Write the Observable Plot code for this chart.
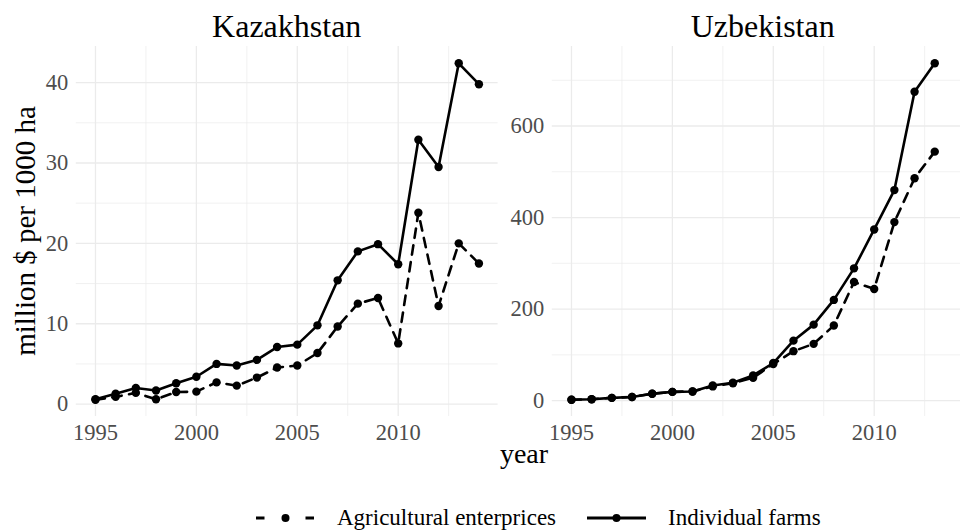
<!DOCTYPE html>
<html><head><meta charset="utf-8">
<script src="https://cdn.jsdelivr.net/npm/d3@7"></script>
<script src="https://cdn.jsdelivr.net/npm/@observablehq/plot@0.6"></script>
<style>
body{margin:0;background:#fff;}
#wrap{position:relative;width:960px;height:532px;overflow:hidden;background:#fff;}
#wrap svg{position:absolute;}
#wrap svg text{font-family:"Liberation Serif","Times New Roman",serif !important;}
</style></head><body><div id="wrap"></div>
<script>
// ---- data ----
const seriesNames = ["Agricultural enterprices", "Individual farms"];
const yearsKZ = [1995,1996,1997,1998,1999,2000,2001,2002,2003,2004,2005,2006,2007,2008,2009,2010,2011,2012,2013,2014];
const kzEnterprises = [0.55,0.9,1.4,0.6,1.5,1.55,2.7,2.3,3.3,4.55,4.8,6.35,9.65,12.5,13.2,7.55,23.8,12.2,20.0,17.5];
const kzFarms = [0.6,1.3,2.0,1.7,2.6,3.4,5.0,4.8,5.5,7.1,7.4,9.8,15.4,19.0,19.9,17.4,32.9,29.5,42.4,39.8];
const yearsUZ = [1995,1996,1997,1998,1999,2000,2001,2002,2003,2004,2005,2006,2007,2008,2009,2010,2011,2012,2013];
const uzEnterprises = [2,3,6,8,15,19,20,31,38,50,80,108,124,164,259,244,390,486,544];
const uzFarms = [2,3,6,8,15,19,20,33,39,55,82,131,166,220,289,374,460,675,737];
const countries = ["Kazakhstan", "Uzbekistan"];
const xTicks = [1995,2000,2005,2010];
const xMinor = [1997.5,2002.5,2007.5,2012.5];
const kzYTicks = [0,10,20,30,40];
const kzYMinor = [5,15,25,35];
const uzYTicks = [0,200,400,600];
const uzYMinor = [100,300,500,700];

function buildRows(country, years, ent, farms) {
  const out = [];
  years.forEach((yr, i) => {
    out.push({country, year: yr, series: seriesNames[0], value: ent[i]});
    out.push({country, year: yr, series: seriesNames[1], value: farms[i]});
  });
  return out;
}
const table = [
  ...buildRows(countries[0], yearsKZ, kzEnterprises, kzFarms),
  ...buildRows(countries[1], yearsUZ, uzEnterprises, uzFarms)
];

const FONT = '"Liberation Serif", "Times New Roman", serif';
const [xa, xb] = d3.extent(table, d => d.year);
const xe = (xb - xa) * 0.05;

function panel(country, yTicks, yMinor, marginLeft, marginRight) {
  const data = table.filter(d => d.country === country);
  const [ya, yb] = d3.extent(data, d => d.value);
  const ye = (yb - ya) * 0.05;
  const grid = {stroke: "#ebebeb", strokeOpacity: 1};
  const axisText = {fontFamily: FONT, fontSize: 22.5, fill: "#4d4d4d"};
  return Plot.plot({
    width: 500, height: 450,
    marginLeft, marginRight, marginTop: 46, marginBottom: 34,
    x: {domain: [xa - xe, xb + xe]},
    y: {domain: [ya - ye, yb + ye]},
    style: {fontFamily: FONT, fontSize: "22.5px", color: "#4d4d4d", background: "transparent", overflow: "visible"},
    marks: [
      Plot.gridX(xMinor, {...grid, strokeWidth: 0.7}),
      Plot.gridY(yMinor, {...grid, strokeWidth: 0.7}),
      Plot.gridX(xTicks, {...grid, strokeWidth: 1.3}),
      Plot.gridY(yTicks, {...grid, strokeWidth: 1.3}),
      Plot.axisX({ticks: xTicks, tickFormat: d => String(d), tickSize: 0, tickPadding: 8, label: null, ...axisText}),
      Plot.axisY({ticks: yTicks, tickFormat: d => String(d), tickSize: 0, tickPadding: 8, label: null, ...axisText}),
      Plot.line(data.filter(d => d.series === seriesNames[0]), {x: "year", y: "value", stroke: "black", strokeWidth: 2.6, strokeDasharray: "9.5,7.5"}),
      Plot.line(data.filter(d => d.series === seriesNames[1]), {x: "year", y: "value", stroke: "black", strokeWidth: 2.6}),
      Plot.dot(data, {x: "year", y: "value", r: 4.2, fill: "black"})
    ]
  });
}

const wrap = document.getElementById("wrap");
const p1 = panel(countries[0], kzYTicks, kzYMinor, 75.8, 2.4);
p1.style.left = "0px"; p1.style.top = "0px";
const p2 = panel(countries[1], uzYTicks, uzYMinor, 71.8, 6.4);
p2.style.left = "480px"; p2.style.top = "0px";
wrap.appendChild(p1);
wrap.appendChild(p2);

// ---- overlay text: strip titles, axis titles, legend ----
const ns = "http://www.w3.org/2000/svg";
const ov = document.createElementNS(ns, "svg");
ov.setAttribute("width", 960); ov.setAttribute("height", 532);
ov.style.left = "0px"; ov.style.top = "0px";
ov.style.fontFamily = FONT;
function txt(s, x, y, size, anchor, extra) {
  const t = document.createElementNS(ns, "text");
  t.textContent = s;
  t.setAttribute("x", x); t.setAttribute("y", y);
  t.setAttribute("font-size", size);
  t.setAttribute("text-anchor", anchor);
  t.setAttribute("fill", "#000");
  if (extra) for (const k in extra) t.setAttribute(k, extra[k]);
  ov.appendChild(t);
  return t;
}
function el(tag, attrs) {
  const e = document.createElementNS(ns, tag);
  for (const k in attrs) e.setAttribute(k, attrs[k]);
  ov.appendChild(e);
  return e;
}
txt(countries[0], 286.7, 37, 32, "middle");
txt(countries[1], 762.7, 37, 32, "middle");
txt("year", 524, 463, 28, "middle");
txt("million $ per 1000 ha", 0, 0, 29, "middle", {transform: "translate(35,231) rotate(-90)"});

// legend
const ly = 518;
el("path", {d: `M256,${ly}H315`, stroke: "#000", "stroke-width": 2.8, "stroke-dasharray": "8.5 20.5 0 20.5 8.5", fill: "none"});
el("circle", {cx: 285.5, cy: ly, r: 4, fill: "#000"});
txt(seriesNames[0], 337, 525, 23, "start");
el("path", {d: `M587,${ly}H646`, stroke: "#000", "stroke-width": 2.8, fill: "none"});
el("circle", {cx: 616.5, cy: ly, r: 4, fill: "#000"});
txt(seriesNames[1], 668, 525, 23, "start");
wrap.appendChild(ov);
</script>
</body></html>
